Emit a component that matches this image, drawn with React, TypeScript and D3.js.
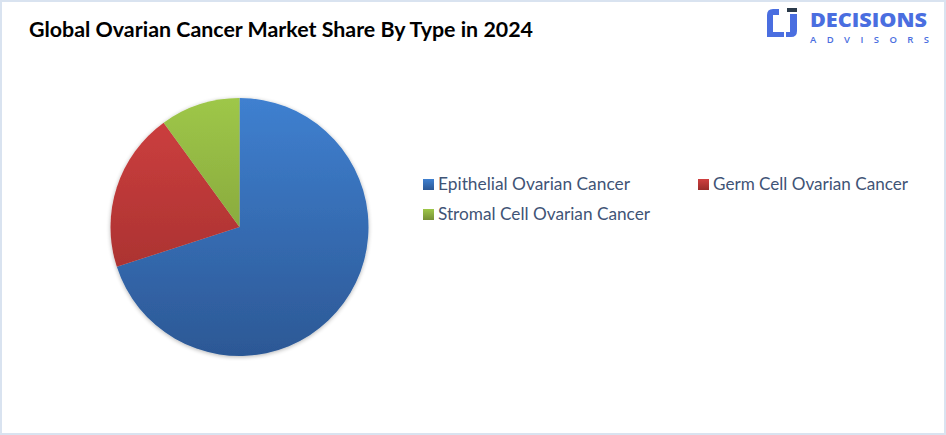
import React, { useMemo } from "react";
import * as d3 from "d3";

const categories = ["Epithelial Ovarian Cancer", "Germ Cell Ovarian Cancer", "Stromal Cell Ovarian Cancer"];
const shares = [70, 20, 10];
const colorsTop = ["#3f80d0", "#d04040", "#9ec748"];
const colorsBottom = ["#2c5895", "#992c2a", "#768f36"];
const title = "Global Ovarian Cancer Market Share By Type in 2024";

const W = 946;
const H = 435;

export default function App() {
  const cx = 239.5;
  const cy = 227;
  const r = 129;
  const arcs = useMemo(() => {
    const pie = d3.pie<number>().sort(null).value((d) => d);
    return pie(shares);
  }, []);
  const arcGen = d3.arc<d3.PieArcDatum<number>>().innerRadius(0).outerRadius(r);

  const legendItems = categories.map((c, i) => {
    const pos = [
      { x: 423, y: 184, w: 192 },
      { x: 698, y: 184, w: 195 },
      { x: 423, y: 214, w: 212 },
    ][i];
    return { c, i, ...pos };
  });

  return (
    <svg
      width={W}
      height={H}
      style={{ position: "absolute", left: 0, top: 0, fontFamily: "Lato, 'Open Sans', sans-serif" }}
    >
      <defs>
        {colorsTop.map((c, i) => (
          <linearGradient key={i} id={`g${i}`} gradientUnits="userSpaceOnUse" x1={0} y1={-r} x2={0} y2={r}>
            <stop offset="0%" stopColor={c} />
            <stop offset="100%" stopColor={colorsBottom[i]} />
          </linearGradient>
        ))}
        {colorsTop.map((c, i) => (
          <linearGradient key={i} id={`lg${i}`} x1="0" y1="0" x2="0" y2="1">
            <stop offset="0%" stopColor={c} />
            <stop offset="100%" stopColor={colorsBottom[i]} />
          </linearGradient>
        ))}
        <filter id="shadow" x="-20%" y="-20%" width="140%" height="140%">
          <feGaussianBlur in="SourceAlpha" stdDeviation="2" />
          <feOffset dx="0" dy="1" result="b" />
          <feComponentTransfer>
            <feFuncA type="linear" slope="0.3" />
          </feComponentTransfer>
          <feMerge>
            <feMergeNode />
            <feMergeNode in="SourceGraphic" />
          </feMerge>
        </filter>
      </defs>
      <rect x={1} y={1} width={W - 2} height={H - 2} fill="#ffffff" stroke="#d9e3f0" strokeWidth={2} />

      <text
        x={29}
        y={37}
        fontSize={20}
        fontWeight={700}
        fill="#000"
        textLength={504}
        lengthAdjust="spacingAndGlyphs"
      >
        {title}
      </text>

      {/* Logo */}
      <g fill="#4a6ee0">
        <path d="M779,9 L773,9 Q767,9 767,15 L767,37 L784,37 L784,32 L773,32 L773,15 L779,15 Z" />
        <path d="M790,14 L797,14 L797,31 Q797,37 791,37 L786,37 L786,32 L790,32 Z" />
        <rect x={787} y={8} width={10} height={4} fill="#2b3a4a" />
        <text x={810} y={27} fontSize={20} fontWeight={800} textLength={117} lengthAdjust="spacingAndGlyphs" fontFamily="'Open Sans', sans-serif">
          DECISIONS
        </text>
        <text x={810} y={43} fontSize={9.5} fontWeight={600} textLength={119} lengthAdjust="spacing" fontFamily="'Open Sans', sans-serif">
          ADVISORS
        </text>
      </g>

      <g transform={`translate(${cx},${cy})`} filter="url(#shadow)">
        {arcs.map((a, i) => (
          <path key={i} d={arcGen(a) || ""} fill={`url(#g${i})`} />
        ))}
      </g>

      {legendItems.map((it) => (
        <g key={it.i}>
          <rect x={it.x} y={it.y - 5} width={11} height={11} fill={`url(#lg${it.i})`} />
          <text
            x={it.x + 15}
            y={it.y + 6}
            fontSize={17}
            fill="#3f5476"
            textLength={it.w}
            lengthAdjust="spacingAndGlyphs"
          >
            {it.c}
          </text>
        </g>
      ))}
    </svg>
  );
}
